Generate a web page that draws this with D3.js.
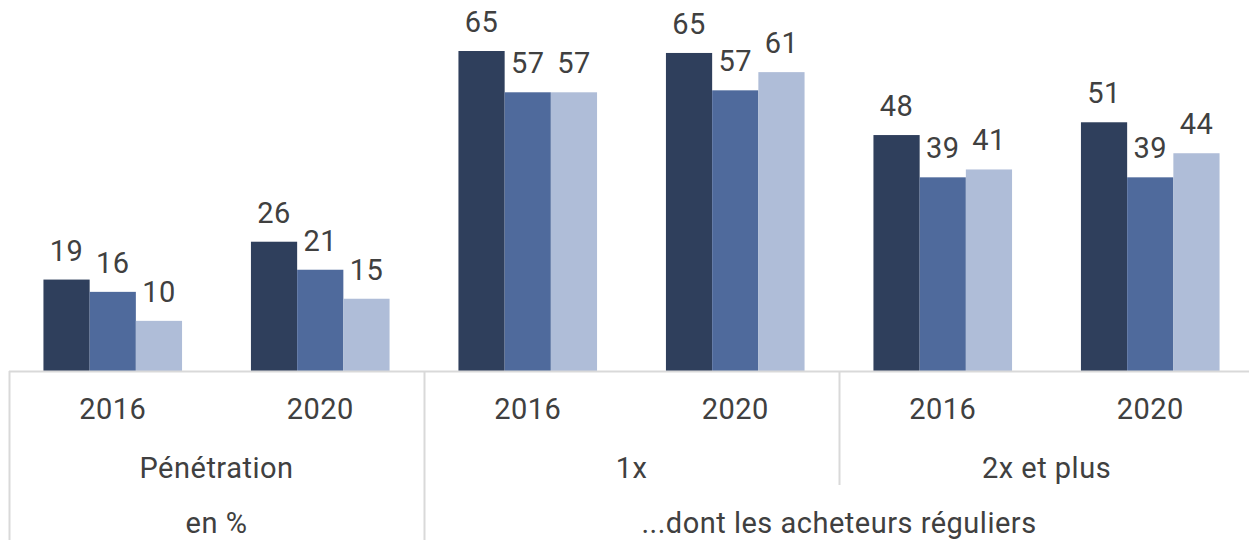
<!DOCTYPE html>
<html>
<head>
<meta charset="utf-8">
<script src="https://cdn.jsdelivr.net/npm/d3@7"></script>
<style>
  html, body { margin: 0; padding: 0; background: #fff; overflow: hidden; }
  text { font-family: Roboto, "Noto Sans", sans-serif; fill: #404040; font-size: 29px; letter-spacing: 0.5px; }
</style>
</head>
<body>
<div id="chart"></div>
<script>
// categories (inner level = years, then the two grouping levels)
const years = ["2016", "2020", "2016", "2020", "2016", "2020"];
const level2 = [
    { label: "Pénétration", span: 2 },
    { label: "1x", span: 2 },
    { label: "2x et plus", span: 2 }
];
const level3 = [
    { label: "en %", span: 2 },
    { label: "...dont les acheteurs réguliers", span: 4 }
];

// three series, one value per category
const serie1 = [18.6, 26.3, 65.1, 64.7, 48.0, 50.6];
const serie2 = [16.1, 20.6, 56.7, 57.1, 39.4, 39.4];
const serie3 = [10.2, 14.7, 56.7, 60.8, 41.0, 44.3];
const seriesNames = ["serie1", "serie2", "serie3"];
const colors = ["#2f3f5c", "#4f6a9c", "#afbdd8"];

const width = 1249, height = 540;
const plotLeft = 9, plotRight = 1254, baseline = 371, plotTop = 51;

const svg = d3.select("#chart").append("svg")
    .attr("width", width)
    .attr("height", height);

const idx = d3.range(years.length);
const x0 = d3.scaleBand()
    .domain(idx)
    .range([plotLeft, plotRight])
    .paddingInner(0.332)
    .paddingOuter(0.166);

const x1 = d3.scaleBand()
    .domain(seriesNames)
    .range([0, x0.bandwidth()]);

const y = d3.scaleLinear()
    .domain([0, 65.1])
    .range([baseline, plotTop]);

const allSeries = [serie1, serie2, serie3];
const rows = idx.map(i => seriesNames.map((s, k) => ({ i, s, k, v: allSeries[k][i] })));

const groups = svg.selectAll("g.grp")
    .data(rows)
    .enter().append("g")
    .attr("class", "grp")
    .attr("transform", (d, i) => "translate(" + x0(i) + ",0)");

groups.selectAll("rect")
    .data(d => d)
    .enter().append("rect")
    .attr("x", d => x1(d.s))
    .attr("width", x1.bandwidth())
    .attr("y", d => y(d.v))
    .attr("height", d => baseline - y(d.v))
    .attr("fill", d => colors[d.k]);

groups.selectAll("text")
    .data(d => d)
    .enter().append("text")
    .attr("x", d => x1(d.s) + x1.bandwidth() / 2)
    .attr("y", d => y(d.v) - 19)
    .attr("text-anchor", "middle")
    .text(d => Math.round(d.v));

// axis
const axisColor = "#d9d9d9";
const step = x0.step();
const edge = i => plotLeft + step * i;

svg.append("line")
    .attr("x1", plotLeft).attr("x2", plotRight)
    .attr("y1", baseline + 0.5).attr("y2", baseline + 0.5)
    .attr("stroke", axisColor).attr("stroke-width", 2);

svg.selectAll("text.year")
    .data(years)
    .enter().append("text")
    .attr("class", "year")
    .attr("x", (d, i) => x0(i) + x0.bandwidth() / 2)
    .attr("y", 419)
    .attr("text-anchor", "middle")
    .text(d => d);

function drawLevel(levels, yText) {
    let pos = 0;
    levels.forEach(l => {
        const a = edge(pos), b = edge(pos + l.span);
        svg.append("text")
            .attr("x", (a + b) / 2)
            .attr("y", yText)
            .attr("text-anchor", "middle")
            .text(l.label);
        pos += l.span;
    });
}

// divider lines: level 3 boundaries reach the bottom, level 2 stop earlier
const bounds3 = [0];
level3.reduce((acc, l) => { bounds3.push(acc + l.span); return acc + l.span; }, 0);
const bounds2 = [0];
level2.reduce((acc, l) => { bounds2.push(acc + l.span); return acc + l.span; }, 0);

bounds2.forEach(b => {
    const bottom = bounds3.includes(b) ? 540 : 485;
    svg.append("line")
        .attr("x1", Math.round(edge(b)) + 0.5).attr("x2", Math.round(edge(b)) + 0.5)
        .attr("y1", baseline).attr("y2", bottom)
        .attr("stroke", axisColor).attr("stroke-width", 2);
});

drawLevel(level2, 478);
drawLevel(level3, 533);
</script>
</body>
</html>
